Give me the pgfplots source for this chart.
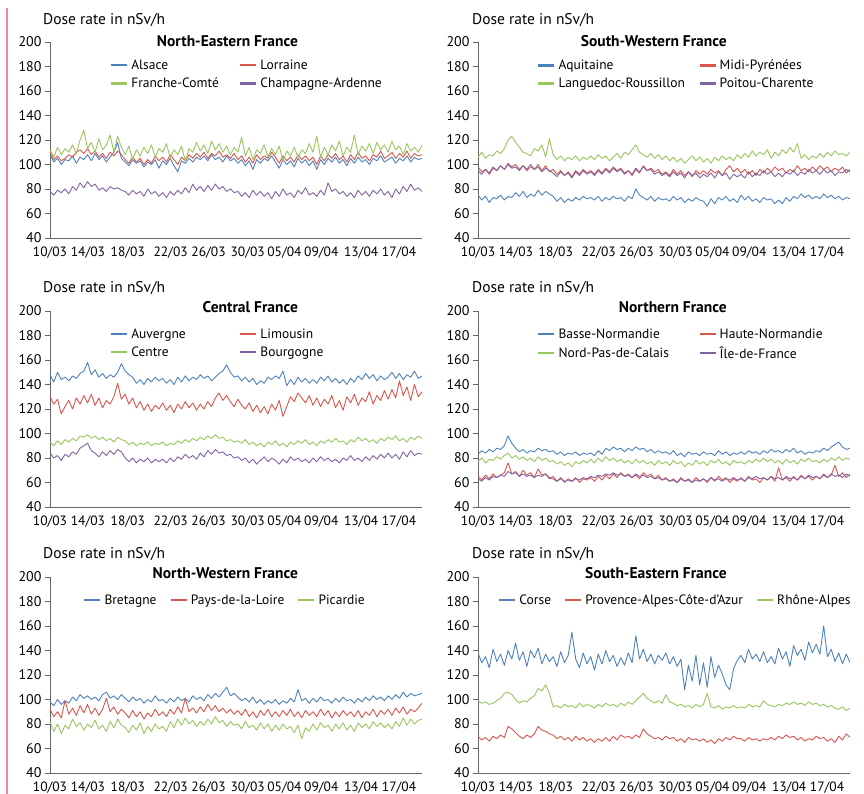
\documentclass[border=0pt]{standalone}
\usepackage{fontspec}
\setmainfont{PT Sans}
\usepackage{pgfplots}
\pgfplotsset{compat=1.18}
\definecolor{cblue}{HTML}{4F81BD}
\definecolor{cred}{HTML}{D9564E}
\definecolor{cgreen}{HTML}{9BC55F}
\definecolor{cpurple}{HTML}{8064A2}
\definecolor{axisgray}{HTML}{666666}
\definecolor{pinkline}{HTML}{F08C96}
\newcommand{\fs}{\fontsize{15.5bp}{18bp}\selectfont}
\newcommand{\fl}{\fontsize{13.5bp}{15bp}\selectfont}
\newcommand{\ft}{\fontsize{15.5bp}{18bp}\selectfont\bfseries}
\pgfplotsset{
 panel/.style={
  scale only axis, width=372bp, height=196bp,
  xmin=0, xmax=99, ymin=40, ymax=200,
  clip mode=individual,
  ytick={40,60,80,100,120,140,160,180,200},
  xtick={0,10.1,20.7,32.1,42.2,52.6,62.4,72.2,82.8,92.9},
  xticklabels={10/03,14/03,18/03,22/03,26/03,30/03,05/04,09/04,13/04,17/04},
  axis x line*=bottom, axis y line*=left,
  axis line style={-, draw=axisgray, line width=0.9bp},
  xtick style={draw=none},
  ytick style={draw=axisgray, line width=0.9bp},
  tick align=outside, major tick length=5bp,
  xticklabel style={font=\fontsize{13.5bp}{16bp}\selectfont},
  yticklabel style={font=\fontsize{14bp}{16bp}\selectfont},
  /pgf/number format/assume math mode=true,
  every axis plot/.append style={line width=0.9bp, line join=round},
  legend image code/.code={\draw[#1, line width=2.2bp] (0bp,0bp) -- (16bp,0bp);},
  legend style={draw=none, fill=none, font=\fl, anchor=north west, inner sep=0pt, row sep=7bp,
    nodes={inner xsep=3bp, inner ysep=0pt},
    /tikz/every even column/.append style={column sep=10bp}},
  legend cell align=left,
 },
 table/tab/.style={x expr=\coordindex, y index=0, row sep=\\, header=false},
}
\begin{document}
\begin{tikzpicture}
\useasboundingbox (0bp,0bp) rectangle (864bp,794bp);
\draw[pinkline, line width=2bp] (7bp,786bp) -- (7bp,0bp);
\node[anchor=base west, inner sep=0pt, font=\fs] at (43bp,769bp) {Dose rate in nSv/h};
\node[anchor=base west, inner sep=0pt, font=\fs] at (472bp,769bp) {Dose rate in nSv/h};
\node[anchor=base west, inner sep=0pt, font=\fs] at (43bp,501bp) {Dose rate in nSv/h};
\node[anchor=base west, inner sep=0pt, font=\fs] at (472bp,501bp) {Dose rate in nSv/h};
\node[anchor=base west, inner sep=0pt, font=\fs] at (43bp,235bp) {Dose rate in nSv/h};
\node[anchor=base west, inner sep=0pt, font=\fs] at (472bp,235bp) {Dose rate in nSv/h};

% ---------------- North-Eastern France
\begin{axis}[panel, at={(50bp,556bp)}, anchor=south west, legend columns=2,
  legend style={at={(0.161,0.91)}}]
\addplot[cblue] table[tab] {
108\\102\\105\\100\\104\\103\\107\\101\\106\\104\\
108\\103\\109\\104\\107\\102\\106\\110\\118\\105\\
102\\99\\104\\101\\103\\98\\102\\100\\104\\97\\
103\\100\\105\\99\\94\\103\\101\\105\\102\\106\\
104\\107\\103\\108\\104\\106\\102\\107\\103\\105\\
101\\104\\99\\103\\96\\104\\101\\105\\103\\107\\
102\\97\\104\\100\\103\\98\\105\\101\\104\\99\\
103\\96\\104\\100\\105\\102\\106\\101\\104\\99\\
105\\101\\106\\102\\104\\100\\105\\103\\107\\102\\
104\\106\\101\\105\\103\\107\\102\\106\\104\\105\\
};
\addlegendentry{\makebox[95bp][l]{Alsace}}
\addplot[cred] table[tab] {
110\\104\\107\\103\\105\\108\\106\\110\\112\\109\\
113\\108\\111\\106\\109\\105\\110\\107\\111\\108\\
104\\101\\106\\102\\105\\100\\104\\101\\107\\103\\
106\\102\\108\\104\\100\\106\\103\\108\\105\\109\\
106\\110\\105\\109\\107\\111\\106\\108\\105\\109\\
104\\107\\102\\106\\101\\108\\104\\107\\105\\110\\
106\\101\\107\\103\\106\\102\\108\\104\\107\\103\\
106\\100\\107\\103\\108\\105\\109\\104\\107\\102\\
108\\104\\110\\105\\107\\103\\108\\106\\111\\105\\
107\\110\\105\\109\\106\\111\\105\\109\\107\\108\\
};
\addlegendentry{Lorraine}
\addplot[cgreen] table[tab] {
112\\106\\114\\108\\113\\110\\116\\109\\120\\128\\
113\\118\\110\\121\\112\\116\\124\\110\\123\\114\\
108\\115\\104\\112\\107\\114\\109\\116\\106\\113\\
110\\117\\105\\112\\108\\115\\103\\113\\110\\118\\
111\\116\\109\\119\\112\\117\\110\\115\\108\\114\\
110\\122\\107\\114\\104\\112\\109\\116\\106\\113\\
108\\115\\103\\111\\107\\114\\106\\112\\109\\117\\
110\\123\\106\\114\\108\\116\\111\\119\\107\\114\\
110\\124\\108\\115\\111\\117\\109\\118\\112\\116\\
110\\119\\112\\115\\108\\117\\111\\114\\110\\116\\
};
\addlegendentry{\makebox[95bp][l]{Franche-Comté}}
\addplot[cpurple] table[tab] {
78\\75\\79\\77\\80\\76\\82\\79\\85\\81\\
86\\82\\84\\79\\81\\78\\82\\80\\81\\79\\
78\\75\\79\\76\\78\\74\\80\\76\\78\\74\\
77\\73\\78\\75\\79\\76\\81\\77\\84\\79\\
82\\78\\83\\79\\84\\80\\82\\78\\80\\77\\
78\\74\\77\\73\\79\\75\\78\\74\\77\\72\\
78\\74\\80\\75\\77\\73\\79\\76\\81\\75\\
77\\74\\79\\75\\85\\78\\80\\76\\78\\74\\
77\\73\\79\\75\\78\\74\\79\\76\\80\\75\\
78\\73\\80\\76\\82\\78\\84\\79\\81\\78\\
};
\addlegendentry{Champagne-Ardenne}
\node[anchor=base east, font=\ft, inner sep=0pt] at (rel axis cs:0.667,0.976) {North-Eastern France};
\end{axis}

% ---------------- South-Western France
\begin{axis}[panel, at={(478bp,556bp)}, anchor=south west, legend columns=2,
  legend style={at={(0.159,0.91)}}]
\addplot[cblue] table[tab] {
75\\71\\74\\69\\73\\72\\75\\71\\74\\73\\
77\\74\\78\\73\\76\\74\\79\\75\\78\\76\\
74\\70\\73\\69\\72\\70\\73\\71\\74\\72\\
73\\71\\74\\70\\73\\71\\74\\72\\73\\70\\
74\\72\\80\\75\\73\\71\\74\\70\\73\\71\\
72\\70\\74\\71\\73\\69\\72\\70\\73\\71\\
70\\66\\72\\68\\73\\71\\74\\70\\72\\69\\
75\\71\\74\\70\\72\\69\\73\\71\\72\\68\\
71\\68\\73\\70\\74\\72\\76\\73\\75\\72\\
74\\72\\76\\73\\75\\72\\74\\71\\73\\72\\
};
\addlegendentry{\makebox[127bp][l]{Aquitaine}}
\addplot[cred] table[tab] {
98\\94\\96\\92\\97\\95\\99\\96\\101\\98\\
100\\96\\99\\95\\98\\96\\100\\95\\99\\94\\
96\\92\\95\\91\\94\\90\\95\\92\\96\\93\\
95\\92\\96\\93\\97\\94\\98\\95\\97\\93\\
95\\91\\96\\93\\99\\95\\97\\94\\96\\92\\
94\\91\\96\\92\\95\\91\\94\\90\\95\\92\\
95\\92\\96\\93\\95\\91\\96\\99\\94\\97\\
93\\96\\92\\95\\91\\96\\93\\97\\94\\98\\
95\\97\\93\\96\\94\\99\\95\\97\\94\\98\\
95\\99\\96\\98\\94\\97\\95\\98\\93\\96\\
};
\addlegendentry{Midi-Pyrénées}
\addplot[cgreen] table[tab] {
106\\110\\105\\108\\107\\111\\109\\113\\120\\123\\
118\\114\\110\\109\\107\\113\\111\\116\\106\\121\\
108\\104\\107\\103\\106\\104\\107\\103\\106\\104\\
107\\104\\108\\105\\107\\103\\106\\109\\105\\110\\
108\\112\\116\\110\\108\\106\\109\\105\\108\\104\\
107\\103\\106\\102\\105\\101\\104\\107\\103\\106\\
102\\105\\101\\106\\103\\107\\104\\106\\103\\108\\
105\\109\\106\\111\\107\\110\\108\\112\\105\\110\\
107\\112\\109\\114\\110\\117\\105\\108\\104\\107\\
105\\109\\106\\110\\107\\111\\108\\109\\107\\110\\
};
\addlegendentry{\makebox[127bp][l]{Languedoc-Roussillon}}
\addplot[cpurple] table[tab] {
95\\92\\96\\93\\98\\95\\99\\96\\100\\97\\
98\\95\\99\\96\\100\\96\\98\\94\\97\\95\\
93\\90\\94\\91\\93\\89\\94\\91\\95\\92\\
94\\91\\95\\92\\96\\93\\97\\94\\96\\92\\
95\\92\\97\\94\\98\\95\\96\\92\\94\\91\\
93\\90\\94\\91\\93\\89\\94\\91\\93\\89\\
92\\90\\93\\89\\94\\91\\93\\88\\92\\90\\
92\\89\\94\\90\\93\\91\\95\\92\\94\\90\\
93\\90\\94\\92\\95\\91\\94\\92\\96\\93\\
95\\92\\96\\93\\95\\91\\94\\93\\96\\94\\
};
\addlegendentry{Poitou-Charente}
\node[anchor=base east, font=\ft, inner sep=0pt] at (rel axis cs:0.669,0.976) {South-Western France};
\end{axis}

% ---------------- Central France
\begin{axis}[panel, at={(50bp,287bp)}, anchor=south west, legend columns=2,
  legend style={at={(0.161,0.912)}}]
\addplot[cblue] table[tab] {
148\\142\\150\\144\\146\\143\\147\\145\\149\\151\\
158\\148\\152\\146\\149\\145\\148\\146\\150\\157\\
151\\148\\146\\141\\144\\140\\145\\142\\146\\143\\
145\\141\\144\\140\\146\\142\\147\\143\\146\\144\\
148\\145\\147\\143\\146\\149\\151\\156\\150\\146\\
147\\143\\146\\142\\145\\140\\143\\141\\146\\144\\
147\\145\\151\\139\\144\\140\\146\\142\\145\\141\\
144\\141\\146\\143\\147\\142\\145\\141\\144\\140\\
145\\142\\147\\144\\149\\145\\148\\143\\147\\144\\
146\\150\\145\\149\\144\\148\\146\\151\\145\\147\\
};
\addlegendentry{\makebox[95bp][l]{Auvergne}}
\addplot[cred] table[tab] {
130\\124\\128\\116\\122\\127\\120\\129\\124\\131\\
125\\132\\123\\129\\121\\127\\124\\130\\141\\128\\
132\\124\\129\\121\\126\\119\\124\\118\\123\\120\\
125\\119\\123\\117\\124\\120\\126\\121\\125\\119\\
124\\120\\126\\122\\129\\133\\127\\131\\126\\122\\
128\\123\\120\\125\\118\\123\\117\\122\\116\\124\\
119\\127\\114\\122\\130\\126\\133\\129\\125\\131\\
123\\129\\122\\128\\124\\131\\121\\127\\119\\130\\
125\\132\\123\\129\\126\\134\\124\\131\\127\\135\\
128\\136\\129\\143\\131\\138\\127\\140\\130\\134\\
};
\addlegendentry{Limousin}
\addplot[cgreen] table[tab] {
93\\90\\94\\91\\95\\93\\96\\94\\98\\97\\
99\\96\\98\\95\\97\\94\\96\\93\\97\\95\\
94\\91\\93\\90\\92\\91\\93\\90\\92\\91\\
93\\90\\92\\91\\94\\92\\95\\93\\96\\94\\
97\\95\\98\\96\\99\\96\\97\\94\\95\\93\\
94\\92\\95\\91\\93\\90\\92\\89\\93\\91\\
94\\90\\92\\89\\93\\91\\94\\92\\95\\91\\
93\\90\\94\\92\\95\\93\\96\\93\\94\\91\\
95\\93\\97\\94\\96\\93\\95\\92\\96\\94\\
97\\95\\98\\94\\96\\93\\97\\95\\98\\96\\
};
\addlegendentry{\makebox[95bp][l]{Centre}}
\addplot[cpurple] table[tab] {
84\\80\\82\\78\\83\\81\\85\\83\\88\\90\\
92\\86\\84\\81\\85\\82\\86\\83\\87\\85\\
80\\77\\80\\76\\79\\77\\80\\76\\79\\77\\
79\\76\\80\\77\\81\\79\\83\\80\\82\\79\\
84\\81\\86\\83\\87\\84\\85\\82\\83\\80\\
81\\78\\80\\76\\79\\75\\78\\81\\77\\80\\
78\\75\\79\\76\\81\\78\\80\\77\\79\\76\\
80\\77\\81\\78\\80\\77\\79\\76\\80\\78\\
82\\78\\80\\77\\81\\78\\82\\79\\83\\80\\
84\\80\\83\\79\\85\\81\\86\\82\\84\\83\\
};
\addlegendentry{Bourgogne}
\node[anchor=base east, font=\ft, inner sep=0pt] at (rel axis cs:0.667,0.99) {Central France};
\end{axis}

% ---------------- Northern France
\begin{axis}[panel, at={(478bp,287bp)}, anchor=south west, legend columns=2,
  legend style={at={(0.159,0.912)}}]
\addplot[cblue] table[tab] {
83\\86\\84\\87\\85\\88\\87\\90\\98\\92\\
88\\85\\87\\84\\86\\85\\88\\86\\87\\85\\
86\\83\\85\\82\\84\\83\\85\\82\\84\\83\\
84\\82\\86\\83\\88\\86\\89\\87\\88\\85\\
88\\86\\89\\87\\88\\85\\87\\84\\86\\84\\
85\\83\\86\\82\\84\\81\\85\\83\\84\\82\\
85\\83\\84\\82\\86\\83\\85\\82\\84\\83\\
85\\83\\86\\84\\85\\83\\86\\84\\87\\85\\
86\\84\\87\\85\\88\\84\\86\\83\\85\\84\\
86\\85\\88\\86\\89\\91\\93\\89\\87\\88\\
};
\addlegendentry{\makebox[127bp][l]{Basse-Normandie}}
\addplot[cred] table[tab] {
65\\62\\66\\63\\67\\64\\66\\68\\76\\67\\
69\\65\\70\\66\\68\\64\\71\\66\\67\\63\\
65\\61\\64\\60\\63\\61\\64\\60\\63\\62\\
64\\61\\65\\62\\66\\63\\67\\64\\68\\65\\
67\\64\\66\\63\\68\\65\\67\\63\\66\\62\\
64\\61\\63\\60\\64\\61\\63\\60\\64\\61\\
63\\60\\64\\61\\65\\62\\64\\60\\63\\61\\
64\\61\\65\\62\\63\\60\\64\\62\\65\\61\\
72\\62\\64\\61\\65\\62\\66\\63\\65\\62\\
65\\63\\67\\64\\66\\74\\65\\68\\64\\67\\
};
\addlegendentry{Haute-Normandie}
\addplot[cgreen] table[tab] {
77\\80\\76\\79\\78\\81\\79\\82\\84\\80\\
82\\79\\81\\78\\80\\77\\81\\78\\80\\77\\
78\\75\\77\\74\\76\\73\\77\\75\\78\\76\\
79\\76\\80\\77\\81\\78\\80\\77\\79\\76\\
78\\75\\79\\76\\78\\75\\77\\74\\78\\75\\
77\\74\\78\\75\\77\\73\\76\\74\\78\\75\\
77\\74\\78\\76\\79\\75\\77\\74\\78\\76\\
77\\75\\78\\76\\79\\77\\80\\77\\79\\76\\
78\\75\\79\\76\\78\\75\\79\\77\\80\\77\\
78\\76\\79\\77\\80\\78\\81\\78\\80\\79\\
};
\addlegendentry{\makebox[127bp][l]{Nord-Pas-de-Calais}}
\addplot[cpurple] table[tab] {
63\\61\\64\\62\\65\\64\\66\\65\\69\\67\\
68\\65\\67\\65\\66\\64\\66\\65\\67\\64\\
63\\61\\63\\61\\62\\61\\63\\62\\64\\63\\
65\\64\\66\\65\\67\\66\\68\\66\\67\\65\\
66\\64\\67\\65\\66\\64\\65\\63\\64\\62\\
63\\61\\62\\60\\63\\61\\62\\60\\62\\61\\
63\\61\\64\\62\\63\\61\\63\\62\\64\\62\\
63\\61\\64\\63\\65\\63\\64\\62\\65\\63\\
64\\62\\65\\63\\64\\62\\65\\63\\66\\64\\
65\\63\\66\\64\\67\\65\\66\\64\\67\\65\\
};
\addlegendentry{Île-de-France}
\node[anchor=base east, font=\ft, inner sep=0pt] at (rel axis cs:0.669,0.99) {Northern France};
\end{axis}

% ---------------- North-Western France
\begin{axis}[panel, at={(50bp,21bp)}, anchor=south west, legend columns=3,
  legend style={at={(0.089,0.912)}}]
\addplot[cblue] table[tab] {
98\\95\\100\\96\\99\\97\\102\\99\\104\\101\\
103\\100\\102\\99\\104\\106\\101\\103\\100\\104\\
101\\98\\102\\99\\101\\97\\100\\98\\103\\99\\
100\\97\\101\\98\\102\\99\\101\\98\\103\\100\\
102\\99\\104\\101\\105\\102\\106\\110\\103\\105\\
102\\99\\101\\98\\102\\97\\100\\96\\99\\97\\
100\\96\\99\\97\\101\\98\\108\\99\\101\\97\\
101\\98\\102\\99\\100\\97\\101\\98\\102\\99\\
100\\97\\101\\98\\102\\99\\103\\100\\102\\99\\
103\\100\\104\\101\\106\\102\\105\\103\\104\\105\\
};
\addlegendentry{Bretagne}
\addplot[cred] table[tab] {
92\\86\\90\\85\\99\\88\\93\\87\\95\\89\\
96\\88\\93\\87\\92\\101\\90\\94\\88\\92\\
89\\85\\91\\86\\90\\84\\89\\86\\92\\87\\
90\\86\\92\\88\\94\\89\\101\\90\\93\\89\\
94\\90\\96\\91\\95\\90\\93\\89\\92\\88\\
91\\87\\92\\86\\90\\85\\91\\87\\92\\86\\
90\\86\\91\\87\\92\\86\\90\\85\\91\\87\\
90\\86\\92\\87\\91\\85\\90\\86\\91\\87\\
90\\86\\91\\85\\90\\87\\92\\86\\91\\88\\
92\\87\\93\\89\\94\\88\\92\\90\\93\\97\\
};
\addlegendentry{Pays-de-la-Loire}
\addplot[cgreen] table[tab] {
82\\74\\80\\72\\79\\76\\84\\78\\81\\75\\
80\\77\\83\\76\\79\\74\\82\\77\\84\\79\\
77\\73\\79\\75\\81\\72\\78\\74\\80\\76\\
78\\74\\82\\77\\84\\79\\85\\80\\83\\78\\
82\\79\\84\\80\\86\\81\\83\\78\\82\\79\\
80\\76\\82\\77\\79\\75\\81\\76\\80\\74\\
79\\75\\80\\76\\78\\73\\79\\68\\77\\74\\
80\\75\\81\\77\\79\\74\\80\\76\\81\\75\\
79\\74\\81\\77\\80\\76\\82\\78\\81\\77\\
80\\76\\82\\78\\85\\79\\84\\80\\83\\84\\
};
\addlegendentry{Picardie}
\node[anchor=base east, font=\ft, inner sep=0pt] at (rel axis cs:0.667,0.99) {North-Western France};
\end{axis}

% ---------------- South-Eastern France
\begin{axis}[panel, at={(478bp,21bp)}, anchor=south west, legend columns=3,
  legend style={at={(0.054,0.912)}}]
\addplot[cblue] table[tab] {
138\\130\\135\\126\\141\\131\\137\\128\\140\\133\\
146\\132\\139\\127\\140\\134\\142\\129\\137\\131\\
135\\127\\139\\130\\136\\155\\133\\126\\138\\129\\
135\\124\\137\\129\\140\\131\\136\\127\\134\\128\\
138\\130\\152\\133\\141\\131\\137\\129\\136\\132\\
138\\129\\135\\127\\133\\108\\128\\115\\136\\112\\
130\\110\\135\\118\\128\\121\\112\\108\\125\\132\\
136\\130\\141\\133\\137\\131\\139\\130\\135\\129\\
142\\133\\139\\127\\144\\136\\141\\132\\147\\138\\
145\\137\\160\\135\\141\\131\\138\\129\\137\\130\\
};
\addlegendentry{Corse}
\addplot[cred] table[tab] {
70\\67\\69\\66\\70\\68\\71\\69\\78\\76\\
73\\70\\68\\71\\69\\72\\78\\75\\74\\72\\
71\\68\\70\\67\\69\\66\\70\\67\\69\\66\\
68\\65\\68\\66\\69\\66\\70\\67\\71\\69\\
70\\68\\71\\69\\76\\72\\70\\68\\69\\67\\
70\\68\\69\\66\\68\\65\\69\\67\\68\\66\\
68\\65\\67\\64\\68\\66\\69\\67\\70\\68\\
68\\66\\69\\67\\68\\66\\68\\67\\69\\67\\
70\\68\\71\\69\\70\\67\\69\\66\\68\\67\\
70\\68\\69\\66\\68\\65\\70\\67\\72\\69\\
};
\addlegendentry{Provence-Alpes-Côte-d’Azur}
\addplot[cgreen] table[tab] {
99\\97\\98\\96\\97\\99\\101\\105\\106\\104\\
100\\97\\99\\98\\101\\103\\109\\107\\112\\105\\
94\\95\\93\\96\\94\\95\\93\\97\\94\\96\\
95\\93\\96\\94\\97\\95\\96\\94\\97\\95\\
98\\96\\99\\102\\105\\101\\99\\97\\99\\97\\
104\\98\\97\\95\\96\\94\\95\\93\\96\\94\\
96\\105\\94\\93\\95\\92\\94\\93\\95\\93\\
94\\93\\96\\94\\95\\94\\99\\96\\95\\94\\
96\\95\\97\\96\\98\\96\\97\\95\\98\\96\\
97\\95\\96\\94\\95\\93\\92\\94\\91\\93\\
};
\addlegendentry{Rhône-Alpes}
\node[anchor=base east, font=\ft, inner sep=0pt] at (rel axis cs:0.669,0.99) {South-Eastern France};
\end{axis}
\end{tikzpicture}
\end{document}
